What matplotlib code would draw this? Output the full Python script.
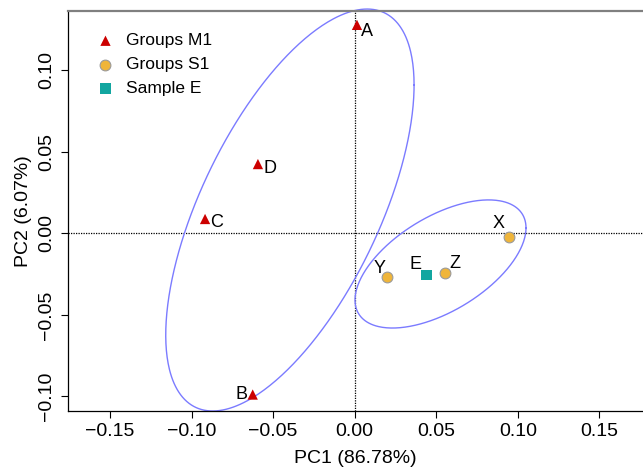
import numpy as np
import matplotlib
matplotlib.use("Agg")
import matplotlib.pyplot as plt

plt.rcParams['font.family'] = ['Liberation Sans', 'DejaVu Sans']

# Data
m1_labels = ["A", "B", "C", "D"]
m1_x = [0.0014, -0.0625, -0.0917, -0.0593]
m1_y = [0.128, -0.0988, 0.0089, 0.0426]

s1_labels = ["X", "Y", "Z"]
s1_x = [0.0945, 0.0197, 0.0553]
s1_y = [-0.0021, -0.0265, -0.0244]

e_labels = ["E"]
e_x = [0.0441]
e_y = [-0.0256]

# Ellipses: center x, center y, x half-range, y half-range, correlation
ell_m1 = [-0.0397, 0.0144, 0.0761, 0.1233, 0.622]
ell_s1 = [0.0526, -0.0187, 0.0524, 0.0393, 0.5625]

x_ticks = [-0.15, -0.10, -0.05, 0.00, 0.05, 0.10, 0.15]
y_ticks = [-0.10, -0.05, 0.00, 0.05, 0.10]

# label offsets (pixels)
m1_off = {"A": (10, -7), "B": (-11, 0), "C": (12, -4), "D": (12, -4)}
s1_off = {"X": (-10, 13), "Y": (-7, 8), "Z": (10, 10)}
e_off = {"E": (-11, 11)}

fig = plt.figure(figsize=(6.43, 4.71), dpi=100)
ax = fig.add_axes([68/643, 60/471, 1 - 68/643, (411-11)/471])
ax.set_xlim(-0.1757, 0.1767)
ax.set_ylim(-0.1089, 0.1365)

ax.axvline(0, color='black', ls=(0, (1, 1)), lw=0.9, zorder=1)
ax.axhline(0, color='black', ls=(0, (1, 1)), lw=0.9, zorder=1)

t = np.linspace(0, 2*np.pi, 400)
for cx, cy, w, h, r in (ell_m1, ell_s1):
    ex = cx + w*np.cos(t)
    ey = cy + h*(r*np.cos(t) + np.sqrt(1 - r*r)*np.sin(t))
    ax.plot(ex, ey, color='#7b7bff', lw=1.0, zorder=2, clip_on=False)

ax.scatter(m1_x, m1_y, marker='^', s=55, color='#cc0000', edgecolors='none', zorder=3, label='Groups M1')
ax.scatter(s1_x, s1_y, marker='o', s=60, color='#efb53a', edgecolors='#9a9a9a', linewidths=0.8, zorder=3, label='Groups S1')
ax.scatter(e_x, e_y, marker='s', s=55, color='#12a6a0', edgecolors='none', zorder=3, label='Sample E')

for labs, xs, ys, off in ((m1_labels, m1_x, m1_y, m1_off), (s1_labels, s1_x, s1_y, s1_off), (e_labels, e_x, e_y, e_off)):
    for l, x, y in zip(labs, xs, ys):
        ax.annotate(l, (x, y), xytext=off[l], textcoords='offset pixels',
                    ha='center', va='center', fontsize=13, color='black')

ax.set_xticks(x_ticks)
ax.set_xticklabels([f"{v:.2f}".replace('-', '\u2212') for v in x_ticks])
ax.set_yticks(y_ticks)
ax.set_yticklabels([f"{v:.2f}".replace('-', '\u2212') for v in y_ticks], rotation=90, va='center')
ax.tick_params(direction='out', length=5, width=0.8, labelsize=14, pad=4)

ax.set_xlabel("PC1 (86.78%)", fontsize=14, labelpad=7)
ax.set_ylabel("PC2 (6.07%)", fontsize=14, labelpad=5)

ax.spines['right'].set_visible(False)
ax.spines['top'].set_color('#808080')
ax.spines['top'].set_linewidth(1.6)
ax.spines['left'].set_linewidth(0.9)
ax.spines['bottom'].set_linewidth(0.9)

ax.legend(loc='upper left', bbox_to_anchor=(0.035, 0.962), frameon=False,
          fontsize=12.5, handletextpad=0.6, labelspacing=0.5, borderaxespad=0,
          handlelength=1.2)

fig.savefig("out.png", dpi=100)
